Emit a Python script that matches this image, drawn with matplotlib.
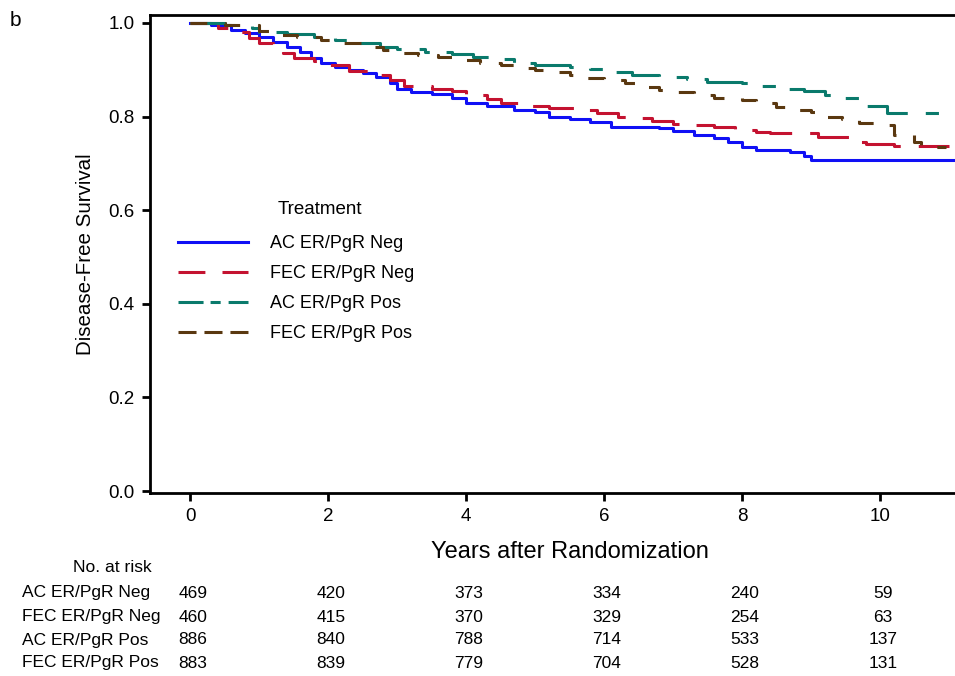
import numpy as np
import matplotlib.pyplot as plt
from matplotlib.lines import Line2D
from matplotlib.transforms import blended_transform_factory

plt.rcParams['font.family'] = ['Liberation Sans', 'DejaVu Sans']

# Kaplan-Meier step points
ac_neg_t = [0, 0.3, 0.6, 0.8, 1.0, 1.2, 1.4, 1.6, 1.75, 1.9, 2.1, 2.3, 2.5, 2.7, 2.9, 3.0, 3.2, 3.5,
            3.8, 4.0, 4.3, 4.7, 5.0, 5.2, 5.5, 5.8, 6.1, 6.8, 7.0, 7.3, 7.6, 7.8, 8.0, 8.2, 8.7, 8.9,
            9.0, 11.2]
ac_neg_s = [1.0, 0.995, 0.985, 0.978, 0.97, 0.96, 0.949, 0.938, 0.925, 0.915, 0.906, 0.9, 0.893,
            0.885, 0.872, 0.86, 0.853, 0.848, 0.84, 0.83, 0.822, 0.815, 0.81, 0.80, 0.795, 0.788,
            0.778, 0.776, 0.77, 0.76, 0.755, 0.745, 0.735, 0.729, 0.724, 0.715, 0.708, 0.708]

fec_neg_t = [0, 0.4, 0.7, 0.85, 1.0, 1.2, 1.35, 1.5, 1.8, 2.0, 2.3, 2.6, 2.9, 3.1, 3.5, 3.8, 4.0,
             4.3, 4.5, 4.8, 5.2, 5.6, 5.9, 6.2, 6.4, 6.7, 7.0, 7.3, 7.6, 7.9, 8.2, 8.4, 9.1, 9.6,
             9.8, 10.2, 11.0]
fec_neg_s = [1.0, 0.99, 0.98, 0.968, 0.958, 0.945, 0.936, 0.925, 0.918, 0.91, 0.897, 0.888, 0.878,
             0.865, 0.86, 0.855, 0.846, 0.838, 0.83, 0.822, 0.818, 0.815, 0.808, 0.80, 0.797, 0.79,
             0.784, 0.782, 0.778, 0.772, 0.768, 0.765, 0.757, 0.745, 0.742, 0.737, 0.737]

ac_pos_t = [0, 0.5, 0.9, 1.0, 1.4, 1.8, 2.1, 2.4, 2.75, 3.0, 3.4, 3.8, 4.1, 4.4, 4.7, 5.0, 5.5, 5.8,
            6.1, 6.4, 6.8, 7.2, 7.5, 8.0, 8.2, 8.6, 8.9, 9.2, 9.5, 9.75, 10.1, 11.2]
ac_pos_s = [1.0, 0.995, 0.99, 0.98, 0.976, 0.97, 0.963, 0.957, 0.949, 0.944, 0.938, 0.934, 0.927,
            0.922, 0.915, 0.911, 0.906, 0.901, 0.895, 0.889, 0.885, 0.88, 0.874, 0.872, 0.865,
            0.86, 0.855, 0.846, 0.84, 0.822, 0.808, 0.808]

fec_pos_t = [0, 0.5, 1.0, 1.3, 1.55, 1.9, 2.1, 2.5, 2.8, 3.0, 3.3, 3.6, 4.0, 4.2, 4.5, 4.7, 5.0,
             5.3, 5.5, 5.7, 6.0, 6.3, 6.5, 6.8, 7.0, 7.3, 7.6, 8.0, 8.2, 8.5, 8.7, 9.0, 9.2, 9.45,
             9.7, 9.95, 10.2, 10.5, 10.6, 10.95]
fec_pos_s = [1.0, 0.995, 0.982, 0.975, 0.97, 0.963, 0.957, 0.949, 0.943, 0.936, 0.931, 0.927,
             0.921, 0.915, 0.91, 0.904, 0.9, 0.896, 0.889, 0.882, 0.878, 0.872, 0.863, 0.857,
             0.852, 0.846, 0.84, 0.835, 0.829, 0.82, 0.814, 0.81, 0.80, 0.795, 0.786, 0.782,
             0.761, 0.746, 0.735, 0.735]

groups = ['AC ER/PgR Neg', 'FEC ER/PgR Neg', 'AC ER/PgR Pos', 'FEC ER/PgR Pos']
risk_times = [0, 2, 4, 6, 8, 10]
risk_ac_neg = [469, 420, 373, 334, 240, 59]
risk_fec_neg = [460, 415, 370, 329, 254, 63]
risk_ac_pos = [886, 840, 788, 714, 533, 137]
risk_fec_pos = [883, 839, 779, 704, 528, 131]

curves = [(ac_neg_t, ac_neg_s), (fec_neg_t, fec_neg_s), (ac_pos_t, ac_pos_s), (fec_pos_t, fec_pos_s)]
risks = [risk_ac_neg, risk_fec_neg, risk_ac_pos, risk_fec_pos]
colors = ['#1010f5', '#c41230', '#0a7a6c', '#5a3810']
styles = ['-', (0, (14, 5.9)), (0, (15.4, 5.9, 4.3, 5.5)), (0, (5.5, 5.9))]
# the legend keys show shorter dashes than the curves
key_styles = ['-', (0, (8.8, 5.6)), (0, (8.2, 2.3, 3.3, 2.6)), (0, (5.9, 2.6))]

fig = plt.figure(figsize=(9.55, 6.76), dpi=100)
ax = fig.add_axes([150 / 955, (676 - 493) / 676, 839 / 955, 478 / 676])

for (t, s), c, ls in zip(curves, colors, styles):
    ax.step(t, s, where='post', color=c, linestyle=ls, lw=2.2)

ax.set_xlim(-0.58, 11.58)
ax.set_ylim(-0.004, 1.017)
ax.set_xticks(risk_times)
ax.set_yticks([0.0, 0.2, 0.4, 0.6, 0.8, 1.0])
ax.set_yticklabels(['0.0', '0.2', '0.4', '0.6', '0.8', '1.0'])
for sp in ax.spines.values():
    sp.set_linewidth(2)
ax.tick_params(direction='out', length=6, width=2, labelsize=13.5, pad=5)
ax.set_xlabel('Years after Randomization', fontsize=17, labelpad=11)
ax.set_ylabel('Disease-Free Survival', fontsize=14.8, labelpad=10)

keys = [Line2D([], [], color=c, linestyle=ls, lw=2.2) for c, ls in zip(colors, key_styles)]
fig.text(278 / 955, 1 - 209 / 676, 'Treatment', fontsize=13.5, va='center', ha='left')
ax.legend(keys, groups, loc='upper left', bbox_to_anchor=((178 - 150) / 839, (493 - 235) / 478),
          frameon=False, fontsize=13, handlelength=3.9, handletextpad=1.2, labelspacing=0.72,
          borderpad=0, borderaxespad=0)

fig.text(10 / 955, 1 - 21 / 676, 'b', fontsize=15, va='center', ha='left')

# number at risk table
fig.text(112 / 955, 1 - 567 / 676, 'No. at risk', fontsize=12.6, ha='center', va='center')
tr = blended_transform_factory(ax.transData, fig.transFigure)
row_y = [593, 617, 640, 663]
for lab, r, py in zip(groups, risks, row_y):
    fig.text(22 / 955, 1 - py / 676, lab, fontsize=12.5, ha='left', va='center')
    for t, n in zip(risk_times, r):
        ax.text(t + 0.04, 1 - py / 676, str(n), fontsize=12.5, ha='center', va='center',
                transform=tr, clip_on=False)

plt.savefig('out.png', dpi=100)
